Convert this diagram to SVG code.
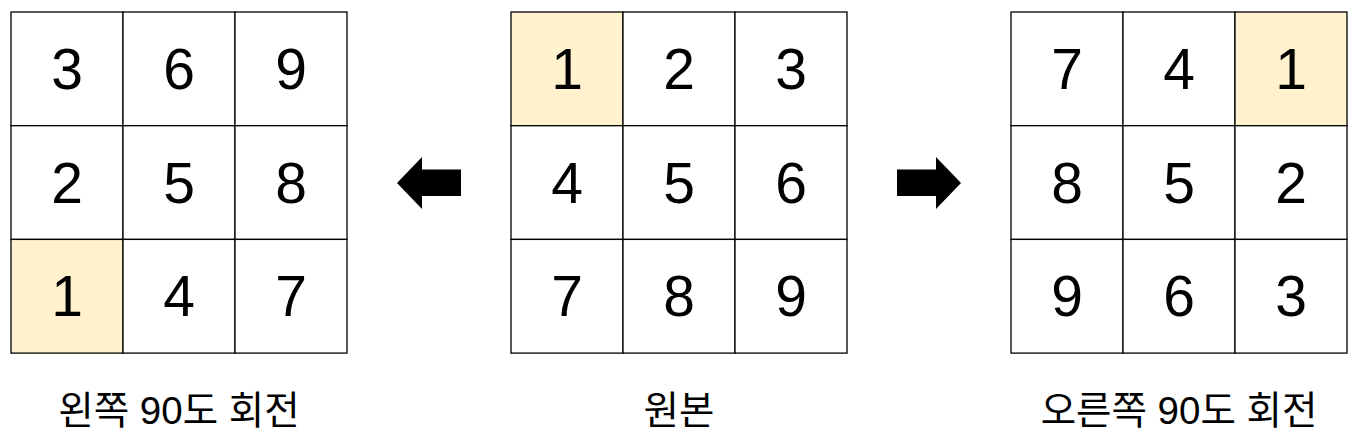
<svg xmlns="http://www.w3.org/2000/svg" width="1362" height="445" viewBox="0 0 1362 445">
<style>
.cell{fill:#ffffff;stroke:#000000;stroke-width:1.3}
.hl{fill:#fff2cc}
.num{font-family:"Liberation Sans","Noto Sans CJK KR",sans-serif;font-size:57px;fill:#000;text-anchor:middle}
.lbl{font-family:"Liberation Sans","Noto Sans CJK KR",sans-serif;font-size:38.5px;fill:#000;text-anchor:middle}
</style>
<rect width="1362" height="445" fill="#ffffff"/>
<g id="left-grid">
<rect class="cell" x="11" y="12" width="112" height="113.7"/>
<rect class="cell" x="123" y="12" width="112" height="113.7"/>
<rect class="cell" x="235" y="12" width="112" height="113.7"/>
<rect class="cell" x="11" y="125.7" width="112" height="113.7"/>
<rect class="cell" x="123" y="125.7" width="112" height="113.7"/>
<rect class="cell" x="235" y="125.7" width="112" height="113.7"/>
<rect class="cell hl" x="11" y="239.4" width="112" height="113.7"/>
<rect class="cell" x="123" y="239.4" width="112" height="113.7"/>
<rect class="cell" x="235" y="239.4" width="112" height="113.7"/>
<text class="num" x="67" y="89">3</text>
<text class="num" x="179" y="89">6</text>
<text class="num" x="291" y="89">9</text>
<text class="num" x="67" y="203">2</text>
<text class="num" x="179" y="203">5</text>
<text class="num" x="291" y="203">8</text>
<text class="num" x="67" y="316">1</text>
<text class="num" x="179" y="316">4</text>
<text class="num" x="291" y="316">7</text>
<text class="lbl" x="179" y="424">왼쪽 90도 회전</text>
</g>
<g id="middle-grid">
<rect class="cell hl" x="511" y="12" width="112" height="113.7"/>
<rect class="cell" x="623" y="12" width="112" height="113.7"/>
<rect class="cell" x="735" y="12" width="112" height="113.7"/>
<rect class="cell" x="511" y="125.7" width="112" height="113.7"/>
<rect class="cell" x="623" y="125.7" width="112" height="113.7"/>
<rect class="cell" x="735" y="125.7" width="112" height="113.7"/>
<rect class="cell" x="511" y="239.4" width="112" height="113.7"/>
<rect class="cell" x="623" y="239.4" width="112" height="113.7"/>
<rect class="cell" x="735" y="239.4" width="112" height="113.7"/>
<text class="num" x="567" y="89">1</text>
<text class="num" x="679" y="89">2</text>
<text class="num" x="791" y="89">3</text>
<text class="num" x="567" y="203">4</text>
<text class="num" x="679" y="203">5</text>
<text class="num" x="791" y="203">6</text>
<text class="num" x="567" y="316">7</text>
<text class="num" x="679" y="316">8</text>
<text class="num" x="791" y="316">9</text>
<text class="lbl" x="679" y="424">원본</text>
</g>
<g id="right-grid">
<rect class="cell" x="1011" y="12" width="112" height="113.7"/>
<rect class="cell" x="1123" y="12" width="112" height="113.7"/>
<rect class="cell hl" x="1235" y="12" width="112" height="113.7"/>
<rect class="cell" x="1011" y="125.7" width="112" height="113.7"/>
<rect class="cell" x="1123" y="125.7" width="112" height="113.7"/>
<rect class="cell" x="1235" y="125.7" width="112" height="113.7"/>
<rect class="cell" x="1011" y="239.4" width="112" height="113.7"/>
<rect class="cell" x="1123" y="239.4" width="112" height="113.7"/>
<rect class="cell" x="1235" y="239.4" width="112" height="113.7"/>
<text class="num" x="1067" y="89">7</text>
<text class="num" x="1179" y="89">4</text>
<text class="num" x="1291" y="89">1</text>
<text class="num" x="1067" y="203">8</text>
<text class="num" x="1179" y="203">5</text>
<text class="num" x="1291" y="203">2</text>
<text class="num" x="1067" y="316">9</text>
<text class="num" x="1179" y="316">6</text>
<text class="num" x="1291" y="316">3</text>
<text class="lbl" x="1179" y="424">오른쪽 90도 회전</text>
</g>
<g id="connectors">
<polygon points="397,183 422,157 422,169.5 461,169.5 461,196 422,196 422,209" fill="#000"/>
<polygon points="961,183 936,157 936,169.5 897,169.5 897,196 936,196 936,209" fill="#000"/>
</g>
</svg>
